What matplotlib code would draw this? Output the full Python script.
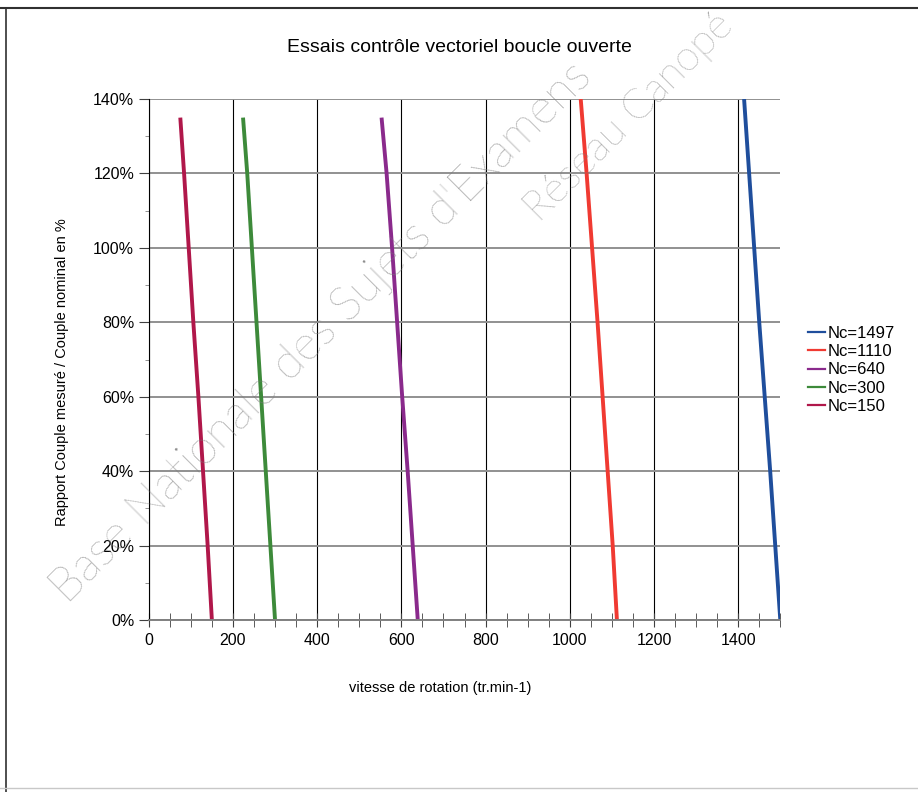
import matplotlib
matplotlib.use("Agg")
import matplotlib.pyplot as plt
from matplotlib.lines import Line2D
from matplotlib.ticker import MultipleLocator, FuncFormatter

plt.rcParams['font.family'] = ['Liberation Sans', 'DejaVu Sans']

# couple (%) -> vitesse (tr/min)
couple = [0, 20, 40, 60, 80, 100, 120, 135]
couple_top = [0, 20, 40, 60, 80, 100, 120, 140]
nc1497 = [1500, 1488, 1476, 1463, 1450, 1438, 1426, 1414]
nc1110 = [1112, 1102, 1090, 1078, 1066, 1053, 1040, 1026]
nc640 = [639, 627, 615, 602, 590, 578, 565, 553]
nc300 = [300, 289, 278, 267, 256, 245, 234, 224]
nc150 = [150, 140, 129, 118, 106, 95, 84, 75]

labels = ["Nc=1497", "Nc=1110", "Nc=640", "Nc=300", "Nc=150"]
colors = ["#1f4e9c", "#f03a32", "#8a2a8c", "#3d8a3a", "#b0174a"]

fig = plt.figure(figsize=(9.18, 7.92), dpi=100)
ax = fig.add_axes([0.162, 0.217, 0.688, 0.658])

series = [(nc1497, couple_top), (nc1110, couple_top), (nc640, couple),
          (nc300, couple), (nc150, couple)]
for (xs, ys), lab, c in zip(series, labels, colors):
    ax.plot(xs, ys, color=c, lw=2.8, label=lab, solid_capstyle="butt")

ax.set_xlim(0, 1500)
ax.set_ylim(0, 140)
ax.xaxis.set_major_locator(MultipleLocator(200))
ax.xaxis.set_minor_locator(MultipleLocator(50))
ax.yaxis.set_major_locator(MultipleLocator(20))
ax.yaxis.set_minor_locator(MultipleLocator(10))
ax.yaxis.set_major_formatter(FuncFormatter(lambda v, p: f"{v:.0f}%"))
ax.grid(axis="x", which="major", color="black", lw=0.8)
ax.grid(axis="y", which="major", color="#909090", lw=1.4)
ax.set_axisbelow(True)
for s in ["top", "right"]:
    ax.spines[s].set_visible(False)
ax.spines["left"].set_color("black")
ax.spines["bottom"].set_color("#808080")
ax.spines["bottom"].set_linewidth(1.4)
ax.tick_params(axis="x", which="both", direction="inout", length=10, color="#404040", labelsize=11.5, pad=4)
ax.tick_params(axis="y", which="major", direction="out", length=7, color="#404040", labelsize=11.5)
ax.tick_params(axis="y", which="minor", direction="out", length=3, color="#808080")

fig.text(0.50, 0.94, "Essais contrôle vectoriel boucle ouverte", ha="center", va="center", fontsize=14)
fig.text(0.48, 0.131, "vitesse de rotation (tr.min-1)", ha="center", va="center", fontsize=10.5)
fig.text(0.068, 0.53, "Rapport Couple mesuré / Couple nominal en %", ha="center", va="center",
         rotation=90, fontsize=10.5)

handles = [Line2D([], [], color=c, lw=1.6) for c in colors]
ax.legend(handles, labels, loc="center left", bbox_to_anchor=(1.02, 0.48), frameon=False,
          handlelength=1.0, handletextpad=0.2, labelspacing=0.2, fontsize=12)

# page frame
fig.add_artist(Line2D([0.0, 1.0], [0.99, 0.99], color="#303030", lw=1.5, transform=fig.transFigure))
fig.add_artist(Line2D([0.007, 0.007], [0.0, 0.99], color="#303030", lw=1.2, transform=fig.transFigure))
fig.add_artist(Line2D([0.0, 1.0], [0.005, 0.005], color="#c8c8c8", lw=1.0, transform=fig.transFigure))

# watermark
fig.text(0.35, 0.58, "Base Nationale des Sujets d'Examens", rotation=45, ha="center", va="center",
         fontsize=34, family="Lato", fontweight="light", color="#7a7a7a", alpha=0.85, zorder=10)
fig.text(0.686, 0.852, "Réseau Canopé", rotation=45, ha="center", va="center",
         fontsize=30, family="Lato", fontweight="light", color="#7a7a7a", alpha=0.85, zorder=10)

fig.savefig("out.png", dpi=100)
